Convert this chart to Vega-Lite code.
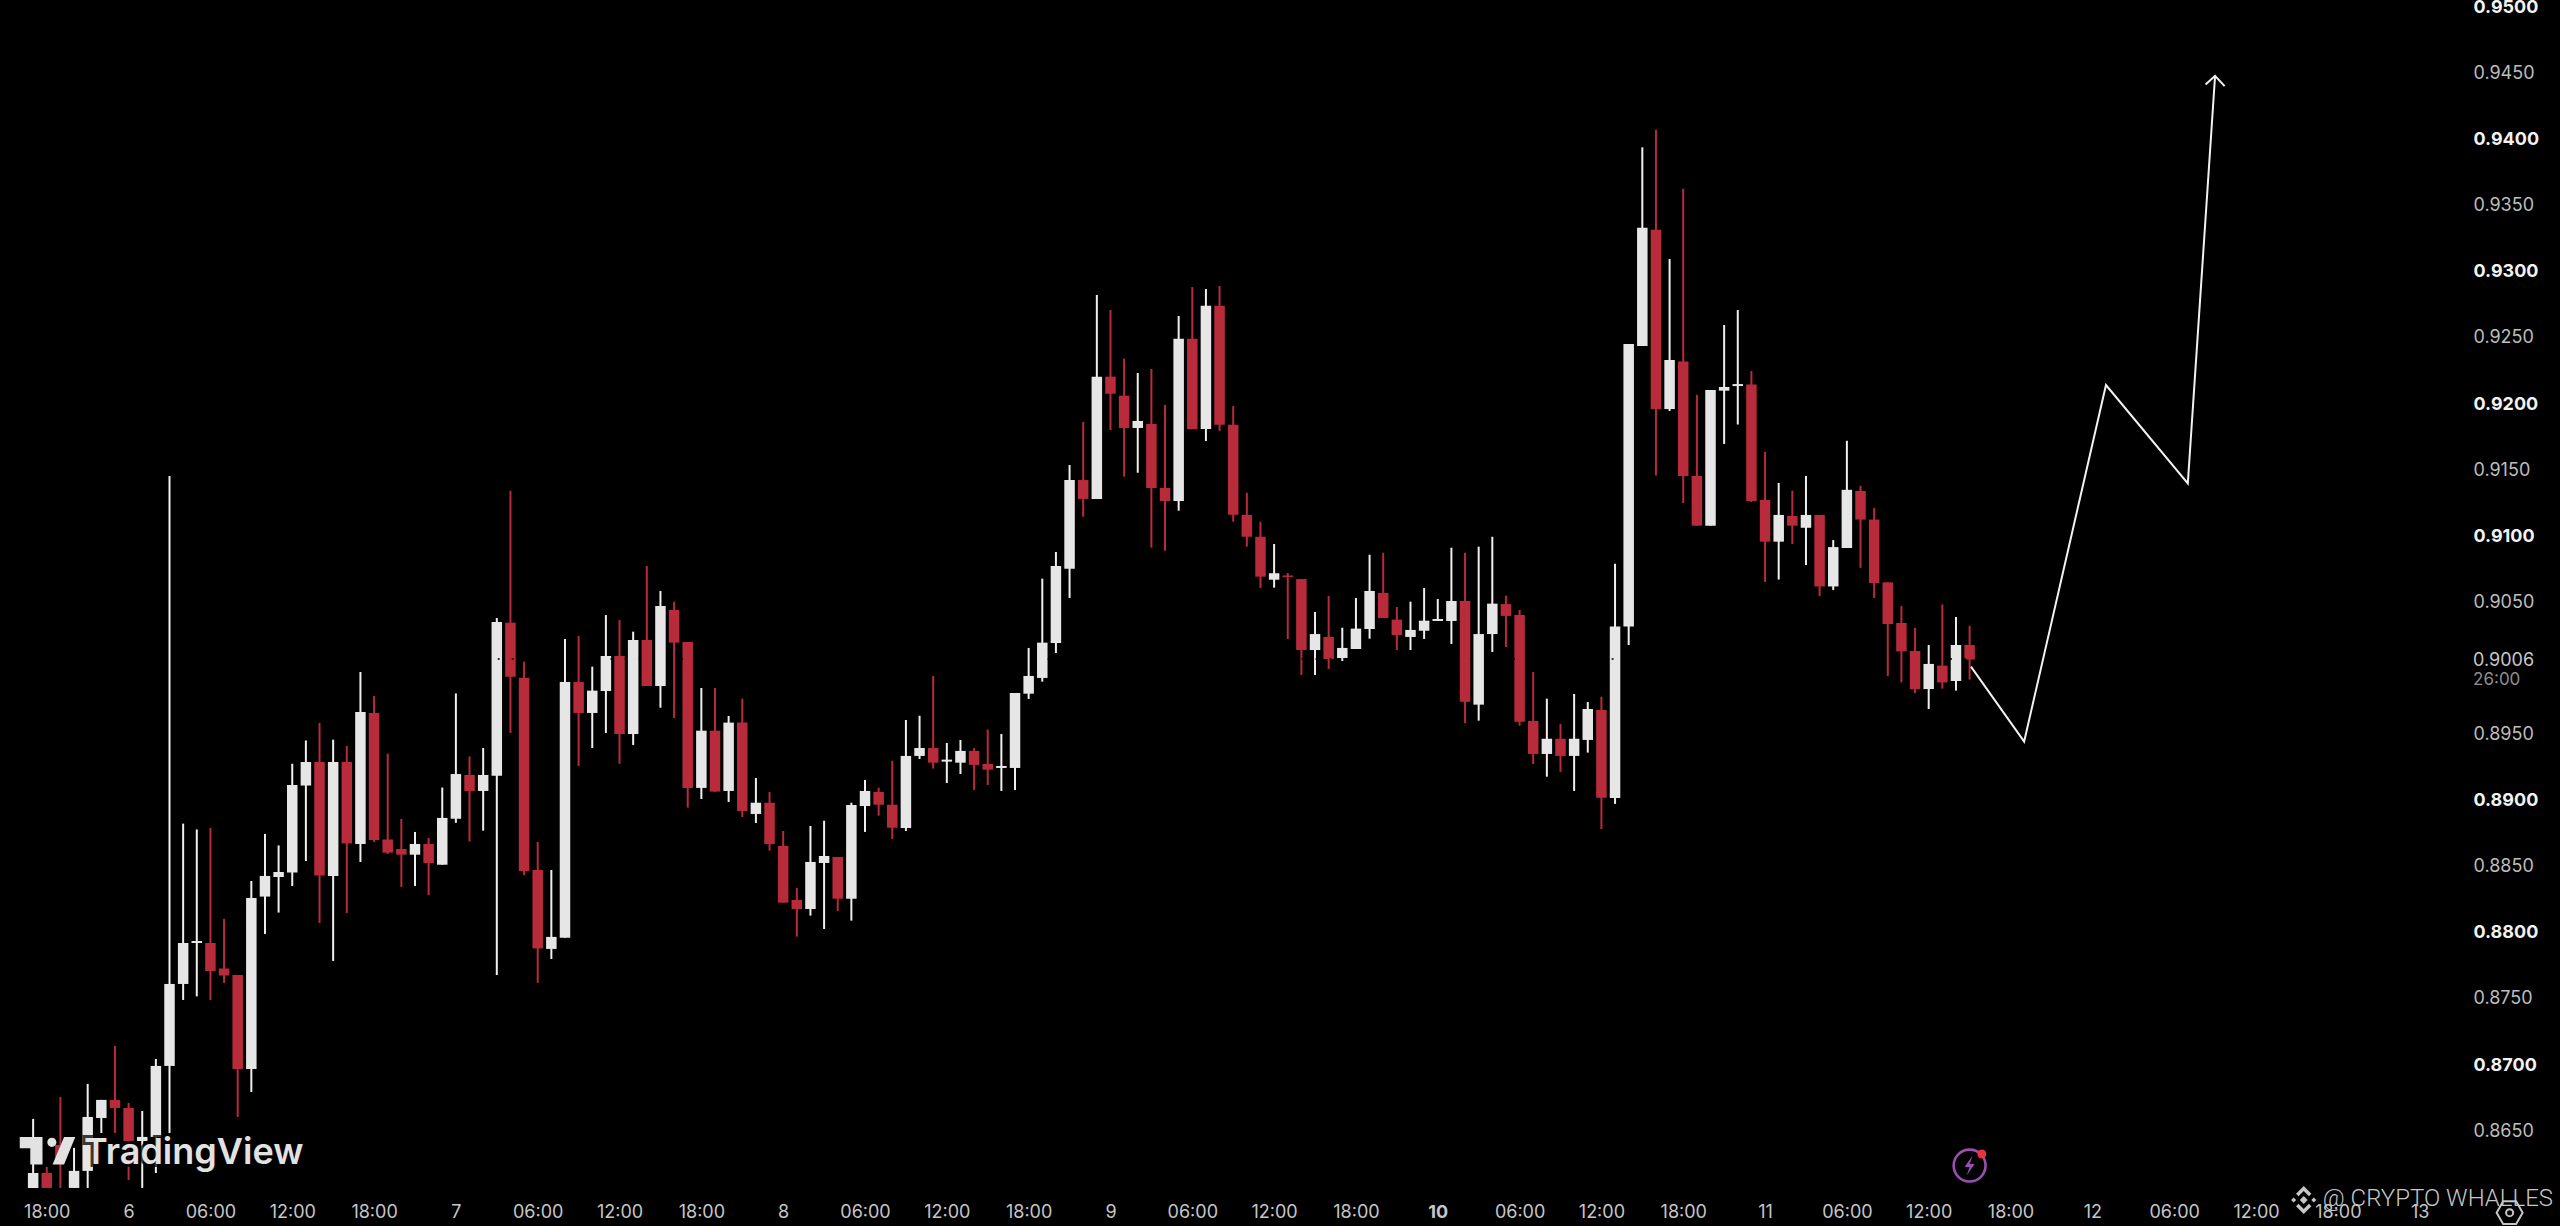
{"$schema":"https://vega.github.io/schema/vega-lite/v6.json","width":2460,"height":1183,"autosize":"none","padding":{"left":0,"right":100,"top":6,"bottom":37},"background":"#000000","config":{"view":{"stroke":null},"font":"Inter"},
"datasets":{"candles":[
{"t":"2025-01-05T17:00:00Z","side":"up","open":0.86059,"high":0.86581,"low":0.86059,"close":0.86172},
{"t":"2025-01-05T18:00:00Z","side":"down","open":0.86172,"high":0.86218,"low":0.86059,"close":0.86059},
{"t":"2025-01-05T19:00:00Z","side":"down","open":0.86384,"high":0.86747,"low":0.86059,"close":0.86271},
{"t":"2025-01-05T20:00:00Z","side":"up","open":0.86059,"high":0.86362,"low":0.86059,"close":0.86188},
{"t":"2025-01-05T21:00:00Z","side":"up","open":0.86188,"high":0.86846,"low":0.86059,"close":0.86596},
{"t":"2025-01-05T22:00:00Z","side":"up","open":0.86588,"high":0.86725,"low":0.86475,"close":0.86725},
{"t":"2025-01-05T23:00:00Z","side":"down","open":0.86725,"high":0.87133,"low":0.86475,"close":0.86664},
{"t":"2025-01-06T00:00:00Z","side":"down","open":0.86664,"high":0.86702,"low":0.86119,"close":0.86414},
{"t":"2025-01-06T01:00:00Z","side":"up","open":0.86414,"high":0.86641,"low":0.86059,"close":0.86445},
{"t":"2025-01-06T02:00:00Z","side":"up","open":0.86445,"high":0.87035,"low":0.86172,"close":0.86982},
{"t":"2025-01-06T03:00:00Z","side":"up","open":0.86982,"high":0.91445,"low":0.86475,"close":0.87602},
{"t":"2025-01-06T04:00:00Z","side":"up","open":0.87602,"high":0.88815,"low":0.87481,"close":0.87912},
{"t":"2025-01-06T05:00:00Z","side":"up","open":0.87912,"high":0.88771,"low":0.87508,"close":0.87927},
{"t":"2025-01-06T06:00:00Z","side":"down","open":0.87912,"high":0.88782,"low":0.87481,"close":0.87700},
{"t":"2025-01-06T07:00:00Z","side":"down","open":0.87719,"high":0.88094,"low":0.87610,"close":0.87666},
{"t":"2025-01-06T08:00:00Z","side":"down","open":0.87670,"high":0.87670,"low":0.86596,"close":0.86959},
{"t":"2025-01-06T09:00:00Z","side":"up","open":0.86959,"high":0.88381,"low":0.86785,"close":0.88253},
{"t":"2025-01-06T10:00:00Z","side":"up","open":0.88263,"high":0.88737,"low":0.87980,"close":0.88419},
{"t":"2025-01-06T11:00:00Z","side":"up","open":0.88411,"high":0.88650,"low":0.88142,"close":0.88449},
{"t":"2025-01-06T12:00:00Z","side":"up","open":0.88445,"high":0.89268,"low":0.88343,"close":0.89107},
{"t":"2025-01-06T13:00:00Z","side":"up","open":0.89103,"high":0.89444,"low":0.88532,"close":0.89281},
{"t":"2025-01-06T14:00:00Z","side":"down","open":0.89281,"high":0.89576,"low":0.88063,"close":0.88423},
{"t":"2025-01-06T15:00:00Z","side":"up","open":0.88419,"high":0.89450,"low":0.87776,"close":0.89281},
{"t":"2025-01-06T16:00:00Z","side":"down","open":0.89281,"high":0.89402,"low":0.88139,"close":0.88665},
{"t":"2025-01-06T17:00:00Z","side":"up","open":0.88661,"high":0.89962,"low":0.88525,"close":0.89659},
{"t":"2025-01-06T18:00:00Z","side":"down","open":0.89652,"high":0.89780,"low":0.88676,"close":0.88691},
{"t":"2025-01-06T19:00:00Z","side":"down","open":0.88695,"high":0.89344,"low":0.88585,"close":0.88595},
{"t":"2025-01-06T20:00:00Z","side":"down","open":0.88623,"high":0.88850,"low":0.88336,"close":0.88580},
{"t":"2025-01-06T21:00:00Z","side":"up","open":0.88580,"high":0.88752,"low":0.88343,"close":0.88661},
{"t":"2025-01-06T22:00:00Z","side":"down","open":0.88661,"high":0.88706,"low":0.88275,"close":0.88517},
{"t":"2025-01-06T23:00:00Z","side":"up","open":0.88504,"high":0.89088,"low":0.88504,"close":0.88858},
{"t":"2025-01-07T00:00:00Z","side":"up","open":0.88852,"high":0.89800,"low":0.88821,"close":0.89190},
{"t":"2025-01-07T01:00:00Z","side":"down","open":0.89183,"high":0.89323,"low":0.88680,"close":0.89062},
{"t":"2025-01-07T02:00:00Z","side":"up","open":0.89062,"high":0.89387,"low":0.88762,"close":0.89183},
{"t":"2025-01-07T03:00:00Z","side":"up","open":0.89178,"high":0.90370,"low":0.87670,"close":0.90340},
{"t":"2025-01-07T04:00:00Z","side":"down","open":0.90335,"high":0.91333,"low":0.89501,"close":0.89926},
{"t":"2025-01-07T05:00:00Z","side":"down","open":0.89919,"high":0.90040,"low":0.88426,"close":0.88457},
{"t":"2025-01-07T06:00:00Z","side":"down","open":0.88464,"high":0.88676,"low":0.87610,"close":0.87871},
{"t":"2025-01-07T07:00:00Z","side":"up","open":0.87867,"high":0.88464,"low":0.87791,"close":0.87958},
{"t":"2025-01-07T08:00:00Z","side":"up","open":0.87952,"high":0.90212,"low":0.87952,"close":0.89886},
{"t":"2025-01-07T09:00:00Z","side":"down","open":0.89886,"high":0.90234,"low":0.89251,"close":0.89652},
{"t":"2025-01-07T10:00:00Z","side":"up","open":0.89652,"high":0.90002,"low":0.89387,"close":0.89821},
{"t":"2025-01-07T11:00:00Z","side":"up","open":0.89818,"high":0.90393,"low":0.89501,"close":0.90083},
{"t":"2025-01-07T12:00:00Z","side":"down","open":0.90083,"high":0.90355,"low":0.89268,"close":0.89493},
{"t":"2025-01-07T13:00:00Z","side":"up","open":0.89493,"high":0.90267,"low":0.89410,"close":0.90204},
{"t":"2025-01-07T14:00:00Z","side":"down","open":0.90204,"high":0.90764,"low":0.89856,"close":0.89856},
{"t":"2025-01-07T15:00:00Z","side":"up","open":0.89856,"high":0.90575,"low":0.89692,"close":0.90461},
{"t":"2025-01-07T16:00:00Z","side":"down","open":0.90431,"high":0.90494,"low":0.89614,"close":0.90184},
{"t":"2025-01-07T17:00:00Z","side":"down","open":0.90189,"high":0.90189,"low":0.88936,"close":0.89085},
{"t":"2025-01-07T18:00:00Z","side":"up","open":0.89085,"high":0.89841,"low":0.89001,"close":0.89518},
{"t":"2025-01-07T19:00:00Z","side":"down","open":0.89518,"high":0.89841,"low":0.89057,"close":0.89057},
{"t":"2025-01-07T20:00:00Z","side":"up","open":0.89062,"high":0.89629,"low":0.88979,"close":0.89579},
{"t":"2025-01-07T21:00:00Z","side":"down","open":0.89579,"high":0.89760,"low":0.88865,"close":0.88911},
{"t":"2025-01-07T22:00:00Z","side":"up","open":0.88888,"high":0.89160,"low":0.88820,"close":0.88973},
{"t":"2025-01-07T23:00:00Z","side":"down","open":0.88973,"high":0.89054,"low":0.88610,"close":0.88661},
{"t":"2025-01-08T00:00:00Z","side":"down","open":0.88646,"high":0.88759,"low":0.88217,"close":0.88217},
{"t":"2025-01-08T01:00:00Z","side":"down","open":0.88237,"high":0.88328,"low":0.87960,"close":0.88169},
{"t":"2025-01-08T02:00:00Z","side":"up","open":0.88169,"high":0.88797,"low":0.88119,"close":0.88525},
{"t":"2025-01-08T03:00:00Z","side":"up","open":0.88517,"high":0.88837,"low":0.88018,"close":0.88570},
{"t":"2025-01-08T04:00:00Z","side":"down","open":0.88563,"high":0.88563,"low":0.88154,"close":0.88247},
{"t":"2025-01-08T05:00:00Z","side":"up","open":0.88247,"high":0.88973,"low":0.88081,"close":0.88956},
{"t":"2025-01-08T06:00:00Z","side":"up","open":0.88948,"high":0.89145,"low":0.88752,"close":0.89062},
{"t":"2025-01-08T07:00:00Z","side":"down","open":0.89054,"high":0.89087,"low":0.88875,"close":0.88958},
{"t":"2025-01-08T08:00:00Z","side":"down","open":0.88958,"high":0.89291,"low":0.88699,"close":0.88784},
{"t":"2025-01-08T09:00:00Z","side":"up","open":0.88782,"high":0.89599,"low":0.88759,"close":0.89327},
{"t":"2025-01-08T10:00:00Z","side":"up","open":0.89327,"high":0.89631,"low":0.89304,"close":0.89387},
{"t":"2025-01-08T11:00:00Z","side":"down","open":0.89387,"high":0.89932,"low":0.89231,"close":0.89276},
{"t":"2025-01-08T12:00:00Z","side":"up","open":0.89284,"high":0.89425,"low":0.89122,"close":0.89299},
{"t":"2025-01-08T13:00:00Z","side":"up","open":0.89276,"high":0.89448,"low":0.89190,"close":0.89365},
{"t":"2025-01-08T14:00:00Z","side":"down","open":0.89365,"high":0.89387,"low":0.89069,"close":0.89259},
{"t":"2025-01-08T15:00:00Z","side":"down","open":0.89266,"high":0.89526,"low":0.89107,"close":0.89223},
{"t":"2025-01-08T16:00:00Z","side":"up","open":0.89236,"high":0.89493,"low":0.89062,"close":0.89251},
{"t":"2025-01-08T17:00:00Z","side":"up","open":0.89236,"high":0.89803,"low":0.89069,"close":0.89803},
{"t":"2025-01-08T18:00:00Z","side":"up","open":0.89798,"high":0.90144,"low":0.89758,"close":0.89932},
{"t":"2025-01-08T19:00:00Z","side":"up","open":0.89917,"high":0.90668,"low":0.89889,"close":0.90184},
{"t":"2025-01-08T20:00:00Z","side":"up","open":0.90181,"high":0.90870,"low":0.90106,"close":0.90764},
{"t":"2025-01-08T21:00:00Z","side":"up","open":0.90743,"high":0.91528,"low":0.90522,"close":0.91414},
{"t":"2025-01-08T22:00:00Z","side":"down","open":0.91414,"high":0.91853,"low":0.91137,"close":0.91271},
{"t":"2025-01-08T23:00:00Z","side":"up","open":0.91271,"high":0.92814,"low":0.91271,"close":0.92196},
{"t":"2025-01-09T00:00:00Z","side":"down","open":0.92196,"high":0.92700,"low":0.91792,"close":0.92067},
{"t":"2025-01-09T01:00:00Z","side":"down","open":0.92052,"high":0.92332,"low":0.91439,"close":0.91808},
{"t":"2025-01-09T02:00:00Z","side":"up","open":0.91808,"high":0.92224,"low":0.91469,"close":0.91861},
{"t":"2025-01-09T03:00:00Z","side":"down","open":0.91838,"high":0.92254,"low":0.90902,"close":0.91354},
{"t":"2025-01-09T04:00:00Z","side":"down","open":0.91354,"high":0.91982,"low":0.90879,"close":0.91255},
{"t":"2025-01-09T05:00:00Z","side":"up","open":0.91255,"high":0.92655,"low":0.91182,"close":0.92483},
{"t":"2025-01-09T06:00:00Z","side":"down","open":0.92483,"high":0.92874,"low":0.91800,"close":0.91800},
{"t":"2025-01-09T07:00:00Z","side":"up","open":0.91800,"high":0.92859,"low":0.91709,"close":0.92733},
{"t":"2025-01-09T08:00:00Z","side":"down","open":0.92733,"high":0.92882,"low":0.91785,"close":0.91833},
{"t":"2025-01-09T09:00:00Z","side":"down","open":0.91833,"high":0.91974,"low":0.91099,"close":0.91152},
{"t":"2025-01-09T10:00:00Z","side":"down","open":0.91150,"high":0.91318,"low":0.90910,"close":0.90985},
{"t":"2025-01-09T11:00:00Z","side":"down","open":0.90985,"high":0.91099,"low":0.90597,"close":0.90683},
{"t":"2025-01-09T12:00:00Z","side":"up","open":0.90660,"high":0.90930,"low":0.90600,"close":0.90709},
{"t":"2025-01-09T13:00:00Z","side":"down","open":0.90692,"high":0.90711,"low":0.90212,"close":0.90681},
{"t":"2025-01-09T14:00:00Z","side":"down","open":0.90665,"high":0.90665,"low":0.89939,"close":0.90128},
{"t":"2025-01-09T15:00:00Z","side":"up","open":0.90128,"high":0.90416,"low":0.89939,"close":0.90249},
{"t":"2025-01-09T16:00:00Z","side":"down","open":0.90227,"high":0.90537,"low":0.89985,"close":0.90060},
{"t":"2025-01-09T17:00:00Z","side":"up","open":0.90068,"high":0.90297,"low":0.90045,"close":0.90144},
{"t":"2025-01-09T18:00:00Z","side":"up","open":0.90136,"high":0.90522,"low":0.90136,"close":0.90290},
{"t":"2025-01-09T19:00:00Z","side":"up","open":0.90287,"high":0.90849,"low":0.90214,"close":0.90575},
{"t":"2025-01-09T20:00:00Z","side":"down","open":0.90560,"high":0.90864,"low":0.90370,"close":0.90370},
{"t":"2025-01-09T21:00:00Z","side":"down","open":0.90358,"high":0.90454,"low":0.90128,"close":0.90242},
{"t":"2025-01-09T22:00:00Z","side":"up","open":0.90227,"high":0.90494,"low":0.90128,"close":0.90280},
{"t":"2025-01-09T23:00:00Z","side":"up","open":0.90274,"high":0.90597,"low":0.90212,"close":0.90350},
{"t":"2025-01-10T00:00:00Z","side":"up","open":0.90348,"high":0.90514,"low":0.90348,"close":0.90363},
{"t":"2025-01-10T01:00:00Z","side":"up","open":0.90348,"high":0.90902,"low":0.90174,"close":0.90499},
{"t":"2025-01-10T02:00:00Z","side":"down","open":0.90499,"high":0.90864,"low":0.89576,"close":0.89737},
{"t":"2025-01-10T03:00:00Z","side":"up","open":0.89715,"high":0.90910,"low":0.89594,"close":0.90249},
{"t":"2025-01-10T04:00:00Z","side":"up","open":0.90249,"high":0.90985,"low":0.90113,"close":0.90479},
{"t":"2025-01-10T05:00:00Z","side":"down","open":0.90476,"high":0.90539,"low":0.90151,"close":0.90386},
{"t":"2025-01-10T06:00:00Z","side":"down","open":0.90393,"high":0.90431,"low":0.89556,"close":0.89586},
{"t":"2025-01-10T07:00:00Z","side":"down","open":0.89591,"high":0.89962,"low":0.89266,"close":0.89342},
{"t":"2025-01-10T08:00:00Z","side":"up","open":0.89342,"high":0.89760,"low":0.89170,"close":0.89457},
{"t":"2025-01-10T09:00:00Z","side":"down","open":0.89457,"high":0.89569,"low":0.89206,"close":0.89327},
{"t":"2025-01-10T10:00:00Z","side":"up","open":0.89327,"high":0.89796,"low":0.89062,"close":0.89457},
{"t":"2025-01-10T11:00:00Z","side":"up","open":0.89448,"high":0.89735,"low":0.89352,"close":0.89682},
{"t":"2025-01-10T12:00:00Z","side":"down","open":0.89675,"high":0.89775,"low":0.88774,"close":0.89011},
{"t":"2025-01-10T13:00:00Z","side":"up","open":0.89009,"high":0.90781,"low":0.88964,"close":0.90306},
{"t":"2025-01-10T14:00:00Z","side":"up","open":0.90306,"high":0.92443,"low":0.90166,"close":0.92443},
{"t":"2025-01-10T15:00:00Z","side":"up","open":0.92428,"high":0.93931,"low":0.92428,"close":0.93322},
{"t":"2025-01-10T16:00:00Z","side":"down","open":0.93307,"high":0.94063,"low":0.91448,"close":0.91951},
{"t":"2025-01-10T17:00:00Z","side":"up","open":0.91951,"high":0.93086,"low":0.91936,"close":0.92322},
{"t":"2025-01-10T18:00:00Z","side":"down","open":0.92310,"high":0.93618,"low":0.91240,"close":0.91445},
{"t":"2025-01-10T19:00:00Z","side":"down","open":0.91445,"high":0.92059,"low":0.91069,"close":0.91069},
{"t":"2025-01-10T20:00:00Z","side":"up","open":0.91069,"high":0.92095,"low":0.91069,"close":0.92095},
{"t":"2025-01-10T21:00:00Z","side":"up","open":0.92090,"high":0.92587,"low":0.91687,"close":0.92118},
{"t":"2025-01-10T22:00:00Z","side":"up","open":0.92125,"high":0.92700,"low":0.91834,"close":0.92140},
{"t":"2025-01-10T23:00:00Z","side":"down","open":0.92137,"high":0.92239,"low":0.91248,"close":0.91255},
{"t":"2025-01-11T00:00:00Z","side":"down","open":0.91263,"high":0.91628,"low":0.90643,"close":0.90948},
{"t":"2025-01-11T01:00:00Z","side":"up","open":0.90948,"high":0.91392,"low":0.90661,"close":0.91150},
{"t":"2025-01-11T02:00:00Z","side":"down","open":0.91142,"high":0.91334,"low":0.90930,"close":0.91069},
{"t":"2025-01-11T03:00:00Z","side":"up","open":0.91053,"high":0.91445,"low":0.90771,"close":0.91150},
{"t":"2025-01-11T04:00:00Z","side":"down","open":0.91150,"high":0.91150,"low":0.90537,"close":0.90609},
{"t":"2025-01-11T05:00:00Z","side":"up","open":0.90609,"high":0.90960,"low":0.90582,"close":0.90907},
{"t":"2025-01-11T06:00:00Z","side":"up","open":0.90900,"high":0.91711,"low":0.90900,"close":0.91340},
{"t":"2025-01-11T07:00:00Z","side":"down","open":0.91331,"high":0.91371,"low":0.90750,"close":0.91115},
{"t":"2025-01-11T08:00:00Z","side":"down","open":0.91115,"high":0.91202,"low":0.90522,"close":0.90635},
{"t":"2025-01-11T09:00:00Z","side":"down","open":0.90640,"high":0.90640,"low":0.89932,"close":0.90325},
{"t":"2025-01-11T10:00:00Z","side":"down","open":0.90333,"high":0.90461,"low":0.89883,"close":0.90118},
{"t":"2025-01-11T11:00:00Z","side":"down","open":0.90121,"high":0.90296,"low":0.89803,"close":0.89833},
{"t":"2025-01-11T12:00:00Z","side":"up","open":0.89833,"high":0.90166,"low":0.89682,"close":0.90023},
{"t":"2025-01-11T13:00:00Z","side":"down","open":0.90010,"high":0.90473,"low":0.89836,"close":0.89883},
{"t":"2025-01-11T14:00:00Z","side":"up","open":0.89894,"high":0.90378,"low":0.89821,"close":0.90166},
{"t":"2025-01-11T15:00:00Z","side":"down","open":0.90166,"high":0.90312,"low":0.89904,"close":0.90056}
]},
"encoding":{},
"layer":[
{"data":{"name":"candles"},"mark":{"type":"rule","strokeWidth":2,"clip":true},"encoding":{
"x":{"field":"t","type":"temporal","title":null,"scale":{"type":"utc","nice":false,"padding":0,"domain":[1736087652000,1736737056000]},"axis":{"values":[1736100000000,1736121600000,1736143200000,1736164800000,1736186400000,1736208000000,1736229600000,1736251200000,1736272800000,1736294400000,1736316000000,1736337600000,1736359200000,1736380800000,1736402400000,1736424000000,1736445600000,1736467200000,1736488800000,1736510400000,1736532000000,1736553600000,1736575200000,1736596800000,1736618400000,1736640000000,1736661600000,1736683200000,1736704800000,1736726400000],"labelExpr":"utchours(datum.value)==0?''+utcdate(datum.value):utcFormat(datum.value,'%H:%M')","grid":false,"domain":false,"ticks":false,"labelPadding":14,"labelFontSize":18,"labelFont":"Inter","labelColor":"#c6c6c6","labelOverlap":false,"labelFlush":false,"labelFontWeight":{"condition":{"test":"utcdate(datum.value)==10&&utchours(datum.value)==0","value":"bold"},"value":"normal"}}},
"y":{"field":"high","type":"quantitative","title":null,"scale":{"domain":[0.86051,0.95],"zero":false,"nice":false,"padding":0},"axis":{"orient":"right","values":[0.865,0.87,0.875,0.88,0.885,0.89,0.895,0.905,0.91,0.915,0.92,0.925,0.93,0.935,0.94,0.945,0.95],"format":".4f","grid":false,"domain":false,"ticks":false,"labelPadding":13,"labelAlign":"left","labelFontSize":18,"labelFont":"Inter","labelOffset":1.5,"labelOverlap":false,"labelFlush":false,"labelColor":{"condition":{"test":"round(datum.value*10000)%100==0","value":"#f2f2f2"},"value":"#bdbdbd"},"labelFontWeight":{"condition":{"test":"round(datum.value*10000)%100==0","value":"bold"},"value":"normal"}}},
"y2":{"field":"low"},
"color":{"field":"side","type":"nominal","legend":null,"scale":{"domain":["up","down"],"range":["#efefef","#b72b3b"]}}}},
{"data":{"name":"candles"},"mark":{"type":"bar","size":10.5,"clip":true},"encoding":{
"x":{"field":"t","type":"temporal"},
"y":{"field":"open","type":"quantitative"},
"y2":{"field":"close"},
"color":{"condition":{"test":"datum.side=='up'","value":"#e6e6e6"},"value":"#b72b3b"}}},
{"data":{"values":[{"t0":"2025-01-07T02:30:00Z","t1":"2025-01-11T16:00:00Z","p":0.9006}]},"mark":{"type":"rule","stroke":"#000000","strokeWidth":1.6,"strokeDash":[2,12.1],"strokeDashOffset":6.4},"encoding":{"x":{"field":"t0","type":"temporal"},"x2":{"field":"t1"},"y":{"field":"p","type":"quantitative"}}},
{"data":{"values":[
{"t":"2025-01-11T15:06:00Z","p":0.90002,"path":"a","seq":1},
{"t":"2025-01-11T19:00:00Z","p":0.89436,"path":"a","seq":2},
{"t":"2025-01-12T01:00:00Z","p":0.92133,"path":"a","seq":3},
{"t":"2025-01-12T07:00:00Z","p":0.91388,"path":"a","seq":4},
{"t":"2025-01-12T09:00:00Z","p":0.94472,"path":"a","seq":5},
{"t":"2025-01-12T08:18:00Z","p":0.94406,"path":"b","seq":1},
{"t":"2025-01-12T09:00:00Z","p":0.94472,"path":"b","seq":2},
{"t":"2025-01-12T09:42:00Z","p":0.94394,"path":"b","seq":3}
]},"mark":{"type":"line","stroke":"#f2f2f2","strokeWidth":2},"encoding":{"x":{"field":"t","type":"temporal"},"y":{"field":"p","type":"quantitative"},"detail":{"field":"path"},"order":{"field":"seq"}}},
{"data":{"values":[{"t":"2025-01-13T03:55:12Z","p":0.9006,"label":"0.9006"}]},"mark":{"type":"text","align":"left","baseline":"middle","dy":2,"font":"Inter","fontSize":18,"fill":"#c8c8c8"},"encoding":{"x":{"field":"t","type":"temporal"},"y":{"field":"p","type":"quantitative"},"text":{"field":"label"}}},
{"data":{"values":[{"t":"2025-01-13T03:55:12Z","p":0.89912,"label":"26:00"}]},"mark":{"type":"text","align":"left","baseline":"middle","dy":1.5,"font":"Inter","fontSize":17,"fill":"#8e8e8e"},"encoding":{"x":{"field":"t","type":"temporal"},"y":{"field":"p","type":"quantitative"},"text":{"field":"label"}}},
{"data":{"values":[{"t":"2025-01-05T20:44:00Z","p":0.86325,"label":"TradingView"}]},"mark":{"type":"text","align":"left","baseline":"middle","font":"Inter","fontSize":36,"fontWeight":600,"stroke":"#000000","strokeWidth":6,"opacity":0.75},"encoding":{"x":{"field":"t","type":"temporal"},"y":{"field":"p","type":"quantitative"},"text":{"field":"label"}}},
{"data":{"values":[{"t":"2025-01-05T20:44:00Z","p":0.86325,"label":"TradingView"}]},"mark":{"type":"text","align":"left","baseline":"middle","font":"Inter","fontSize":36,"fontWeight":600,"fill":"#e2e2e2"},"encoding":{"x":{"field":"t","type":"temporal"},"y":{"field":"p","type":"quantitative"},"text":{"field":"label"}}},
{"data":{"values":[{"t":"2025-01-05T18:03:11Z","p":0.86341}]},"mark":{"type":"point","filled":true,"opacity":1,"fill":"#e2e2e2","size":3080,"shape":"M-1,-.49H-.18V.5H-.62V-.09H-1Z M.157,-.464A.164,.164 0 1 1 .157,-.136A.164,.164 0 1 1 .157,-.464Z M.597,-.49H1L.597,.5H.182Z"},"encoding":{"x":{"field":"t","type":"temporal"},"y":{"field":"p","type":"quantitative"}}},
{"data":{"values":[{"t":"2025-01-11T15:00:00Z","p":0.86228}]},"mark":{"type":"point","filled":false,"opacity":1,"stroke":"#9a4fb3","strokeWidth":2.6,"size":1018,"shape":"circle"},"encoding":{"x":{"field":"t","type":"temporal"},"y":{"field":"p","type":"quantitative"}}},
{"data":{"values":[{"t":"2025-01-11T15:00:00Z","p":0.86228}]},"mark":{"type":"point","filled":true,"opacity":1,"fill":"#9a4fb3","size":400,"shape":"M.3,-1L-.5,.15H0L-.3,1L.5,-.15H0Z"},"encoding":{"x":{"field":"t","type":"temporal"},"y":{"field":"p","type":"quantitative"}}},
{"data":{"values":[{"t":"2025-01-11T15:54:00Z","p":0.86316}]},"mark":{"type":"point","filled":true,"opacity":1,"fill":"#e8343f","size":80,"shape":"circle"},"encoding":{"x":{"field":"t","type":"temporal"},"y":{"field":"p","type":"quantitative"}}},
{"data":{"values":[{"t":"2025-01-12T16:54:00Z","p":0.85976,"label":"@ CRYPTO WHALLES"}]},"mark":{"type":"text","align":"left","baseline":"middle","font":"Roboto","fontSize":24,"fontWeight":300,"fill":"#c6c6c6"},"encoding":{"x":{"field":"t","type":"temporal"},"y":{"field":"p","type":"quantitative"},"text":{"field":"label"}}},
{"data":{"values":[{"t":"2025-01-12T15:30:00Z","p":0.85968}]},"mark":{"type":"point","filled":true,"opacity":1,"fill":"#c6c6c6","size":784,"shape":"M0,-.28L.28,0L0,.28L-.28,0Z M-.72,-.18L-.54,0L-.72,.18L-.9,0Z M.72,-.18L.9,0L.72,.18L.54,0Z M0,-1L.55,-.45L.37,-.27L0,-.64L-.37,-.27L-.55,-.45Z M0,1L-.55,.45L-.37,.27L0,.64L.37,.27L.55,.45Z"},"encoding":{"x":{"field":"t","type":"temporal"},"y":{"field":"p","type":"quantitative"}}},
{"data":{"values":[{"t":"2025-01-13T06:36:00Z","p":0.85872}]},"mark":{"type":"point","filled":false,"opacity":1,"stroke":"#c6c6c6","strokeWidth":2,"size":676,"shape":"M-.5,-.87L.5,-.87L1,0L.5,.87L-.5,.87L-1,0Z"},"encoding":{"x":{"field":"t","type":"temporal"},"y":{"field":"p","type":"quantitative"}}},
{"data":{"values":[{"t":"2025-01-13T06:36:00Z","p":0.85872}]},"mark":{"type":"point","filled":false,"opacity":1,"stroke":"#c6c6c6","strokeWidth":2,"size":50,"shape":"circle"},"encoding":{"x":{"field":"t","type":"temporal"},"y":{"field":"p","type":"quantitative"}}}
]}
